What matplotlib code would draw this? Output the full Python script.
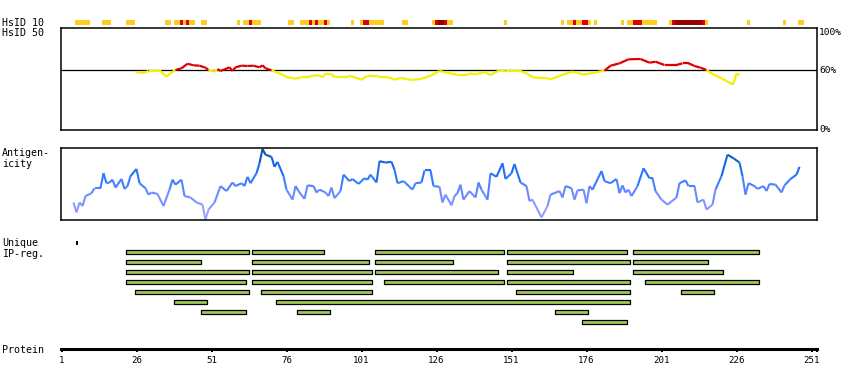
import numpy as np
import matplotlib
matplotlib.use('Agg')
import matplotlib.pyplot as plt
from matplotlib.collections import LineCollection
from matplotlib.colors import LinearSegmentedColormap

W, H = 850, 390
MONO = 'DejaVu Sans Mono'

# HsID 10 blocks: start residue, end residue, level (1 gold, 2 red, 3 dark red)
hs10_start = [6, 15, 23, 36, 39, 41, 42, 43, 44, 48, 60, 62, 64, 65, 77, 81, 84, 85, 86, 87, 89, 90,
              98, 101, 102, 104, 115, 125, 126, 127, 129, 130, 149, 168, 170, 172, 173, 175, 177,
              179, 188, 190, 192, 195, 204, 205, 206, 215, 216, 230, 242, 247]
hs10_end = [10, 17, 25, 37, 40, 41, 42, 43, 45, 49, 60, 63, 64, 67, 78, 83, 84, 85, 86, 88, 89, 90,
            98, 101, 103, 108, 116, 125, 126, 128, 129, 131, 149, 168, 171, 172, 174, 176, 177,
            179, 188, 191, 194, 199, 204, 205, 214, 215, 216, 230, 242, 248]
hs10_level = [1, 1, 1, 1, 1, 2, 1, 2, 1, 1, 1, 1, 2, 1, 1, 1, 2, 1, 2, 1, 2, 1,
              1, 1, 2, 1, 1, 1, 2, 3, 2, 1, 1, 1, 1, 2, 1, 2, 1,
              1, 1, 1, 2, 1, 1, 2, 3, 2, 1, 1, 1, 1]
hs10_colors = {1: '#FFCC22', 2: '#DD0000', 3: '#990000'}

# HsID 50 identity (%)
hs50_pos = [26, 27, 28, 30, 34, 36, 37, 39, 41, 43, 45, 47, 49, 50, 52, 53, 54, 57, 58, 59, 61, 63,
            65, 67, 68, 69, 71, 73, 75, 76, 79, 81, 83, 85, 87, 88, 89, 91, 92, 96, 97, 101, 103,
            106, 107, 110, 112, 114, 116, 118, 121, 124, 127, 129, 133, 136, 137, 139, 142, 144,
            147, 149, 154, 156, 158, 163, 164, 167, 171, 173, 175, 178, 182, 184, 187, 190, 194,
            197, 199, 202, 206, 208, 210, 212, 214, 216, 218, 221, 224, 225, 226, 227]
hs50_val = [57.6, 58.3, 57, 59.3, 59.3, 53.6, 56.3, 60.3, 62, 66.6, 65, 64.6, 62.6, 60.3, 58.6, 61.3,
            59.3, 63, 59.3, 63, 64.6, 64.3, 64.6, 63, 65, 62, 60, 57.6, 55.3, 53.3, 51.6, 53, 53, 55,
            54.6, 53, 56.6, 56, 53, 53, 54.6, 50.6, 54.6, 54.6, 53.3, 53, 50.6, 52.3, 51.3, 50.3,
            51.6, 54.5, 59.3, 58, 55.3, 55.3, 57, 56, 58.3, 55.3, 60, 59.3, 59.3, 57, 53, 52, 51,
            54.3, 58.6, 57.6, 55.6, 57.3, 59.6, 64.6, 67, 71, 71.3, 67.6, 68.6, 65.3, 65.3, 67, 67,
            64.3, 62.6, 60.3, 56.3, 52, 47, 46.3, 57, 55.3]

# Antigenicity (relative score)
ant_pos = [5, 6, 7, 8, 9, 11, 12, 14, 15, 16, 17, 18, 19, 21, 22, 23, 24, 26, 27, 29, 30, 31, 33,
           35, 37, 38, 39, 41, 42, 44, 46, 48, 49, 50, 52, 54, 56, 58, 59, 61, 62, 63, 64, 66, 67,
           68, 69, 71, 72, 73, 75, 76, 78, 79, 80, 82, 83, 85, 86, 87, 89, 90, 91, 92, 94, 95, 97,
           98, 100, 102, 103, 104, 106, 107, 109, 111, 112, 113, 115, 118, 119, 121, 122, 124,
           125, 127, 128, 129, 131, 132, 133, 134, 135, 137, 139, 140, 141, 143, 144, 146, 148,
           149, 151, 152, 154, 156, 157, 158, 161, 163, 164, 167, 168, 169, 171, 172, 173, 175,
           176, 177, 178, 181, 182, 184, 186, 187, 188, 189, 190, 191, 193, 195, 197, 198, 199,
           201, 203, 206, 207, 209, 210, 212, 213, 215, 216, 218, 219, 221, 223, 225, 227, 228,
           229, 230, 232, 233, 235, 236, 237, 239, 241, 242, 244, 246, 247]
ant_val = [.24, .10, .24, .19, .33, .37, .44, .44, .65, .51, .52, .56, .45, .57, .43, .47, .61, .71,
           .51, .44, .35, .38, .36, .19, .42, .56, .49, .56, .33, .31, .24, .21, .00, .14, .24, .47,
           .40, .52, .47, .51, .47, .60, .51, .65, .79, .99, .91, .88, .74, .81, .61, .42, .28, .47,
           .40, .29, .48, .47, .38, .42, .38, .33, .45, .30, .40, .63, .54, .57, .50, .58, .56, .63,
           .52, .82, .80, .81, .70, .51, .54, .42, .51, .52, .69, .69, .47, .46, .24, .35, .20, .33,
           .37, .49, .28, .40, .31, .52, .42, .28, .65, .60, .79, .57, .65, .78, .52, .47, .26, .28,
           .03, .19, .35, .40, .31, .47, .44, .28, .41, .42, .23, .47, .42, .68, .54, .51, .57, .37,
           .48, .38, .42, .33, .47, .72, .58, .58, .40, .28, .21, .31, .51, .55, .47, .47, .24, .28,
           .14, .21, .42, .61, .91, .86, .80, .61, .35, .51, .47, .43, .47, .40, .50, .49, .38, .48,
           .57, .63, .74]

# Unique IP regions (start, end), one list per row
ip_rows = [
    [(23, 63), (65, 88), (106, 148), (150, 189), (192, 233)],
    [(23, 47), (65, 103), (106, 131), (150, 190), (192, 216)],
    [(23, 63), (65, 104), (106, 146), (150, 171), (192, 221)],
    [(23, 62), (65, 104), (109, 148), (150, 190), (196, 233)],
    [(26, 63), (68, 104), (153, 190), (208, 218)],
    [(39, 49), (73, 190)],
    [(48, 62), (80, 90), (166, 176)],
    [(175, 189)],
]
ip_marker_pos = [6]

tick_pos = [1, 26, 51, 76, 101, 126, 151, 176, 201, 226, 251]
seq_end = 252.8

# layout: residue r sits at pixel 58.5 + 3r
X0, X1 = 61, 817
XL = ((X0 - 58.5) / 3, (X1 - 58.5) / 3)

fig = plt.figure(figsize=(W / 100, H / 100), dpi=100)
fig.patch.set_facecolor('white')


def add_ax(top, bottom):
    ax = fig.add_axes([X0 / W, 1 - bottom / H, (X1 - X0) / W, (bottom - top) / H])
    ax.set_xlim(*XL)
    ax.set_xticks([])
    ax.set_yticks([])
    ax.patch.set_alpha(0)
    return ax


def label(x, y, s, **kw):
    fig.text(x / W, 1 - y / H, s, va='center', ha='left', family=MONO,
             fontsize=kw.pop('fontsize', 7.2), **kw)


# HsID 10 strip
ax = add_ax(20, 25)
for s, e, lv in zip(hs10_start, hs10_end, hs10_level):
    ax.broken_barh([(s - 0.5, e - s + 1)], (0, 1), facecolors=hs10_colors[lv], linewidth=0)
ax.set_ylim(0, 1)
for sp in ax.spines.values():
    sp.set_visible(False)

# HsID 50 panel
ax = add_ax(28, 130.3)
ax.set_ylim(0, 102.3)
ax.axhline(60, color='black', lw=0.9)
x = np.array(hs50_pos, float)
y = np.array(hs50_val)
segs = np.stack([np.column_stack([x[:-1], y[:-1]]), np.column_stack([x[1:], y[1:]])], axis=1)
mid = (y[:-1] + y[1:]) / 2
cols = ['#DD0000' if m > 60 else ('#F2F200' if m > 49 else '#C8EE10') for m in mid]
ax.add_collection(LineCollection(segs, colors=cols, linewidths=1.6, capstyle='butt'))
for sp in ax.spines.values():
    sp.set_linewidth(1.1)

# Antigenicity panel
ax = add_ax(148.3, 220.3)
ax.set_ylim(-0.01, 1.0)
cmap = LinearSegmentedColormap.from_list(
    'ant', [(0, '#B0A4FF'), (0.35, '#6E8CFF'), (0.6, '#2A78FF'), (0.8, '#1064E0'), (1, '#0A4A9A')])
x = np.array(ant_pos, float)
y = np.array(ant_val)
segs = np.stack([np.column_stack([x[:-1], y[:-1]]), np.column_stack([x[1:], y[1:]])], axis=1)
mid = (y[:-1] + y[1:]) / 2
ax.add_collection(LineCollection(segs, colors=cmap(mid), linewidths=1.5))
for sp in ax.spines.values():
    sp.set_linewidth(1.1)

# Unique IP regions
ax = add_ax(238, 330)
ax.set_ylim((330 - 252.3) / 10, (238 - 252.3) / 10)
for i, row in enumerate(ip_rows):
    ax.broken_barh([(s - 0.5, e - s + 1) for s, e in row], (i - 0.2, 0.4),
                   facecolors='#A2C85C', edgecolors='black', linewidth=0.9)
ax.vlines(ip_marker_pos, -1.1, -0.75, color='black', lw=1.4)
for sp in ax.spines.values():
    sp.set_visible(False)

# Protein axis
ax = fig.add_axes([X0 / W, 1 - 349 / H, (X1 - X0) / W, 2 / H])
ax.set_xlim(*XL)
ax.patch.set_alpha(0)
for k in ['top', 'left', 'right']:
    ax.spines[k].set_visible(False)
ax.spines['bottom'].set_linewidth(2.2)
ax.set_yticks([])
ax.set_xticks(tick_pos)
ax.set_xticks([seq_end], minor=True)
ax.tick_params(axis='x', which='both', length=2.5, width=1.4, pad=2.5, labelsize=6.6)
for t in ax.get_xticklabels():
    t.set_family(MONO)

# side labels
label(2, 22.5, 'HsID 10')
label(2, 32.5, 'HsID 50')
label(2, 153.5, 'Antigen-')
label(2, 163.5, 'icity')
label(2, 243.5, 'Unique')
label(2, 254, 'IP-reg.')
label(2, 350, 'Protein')
label(819, 32.5, '100%', fontsize=6.8)
label(819, 70.5, '60%', fontsize=6.8)
label(819, 130, '0%', fontsize=6.8)

fig.savefig('out.png', dpi=100, facecolor='white')
